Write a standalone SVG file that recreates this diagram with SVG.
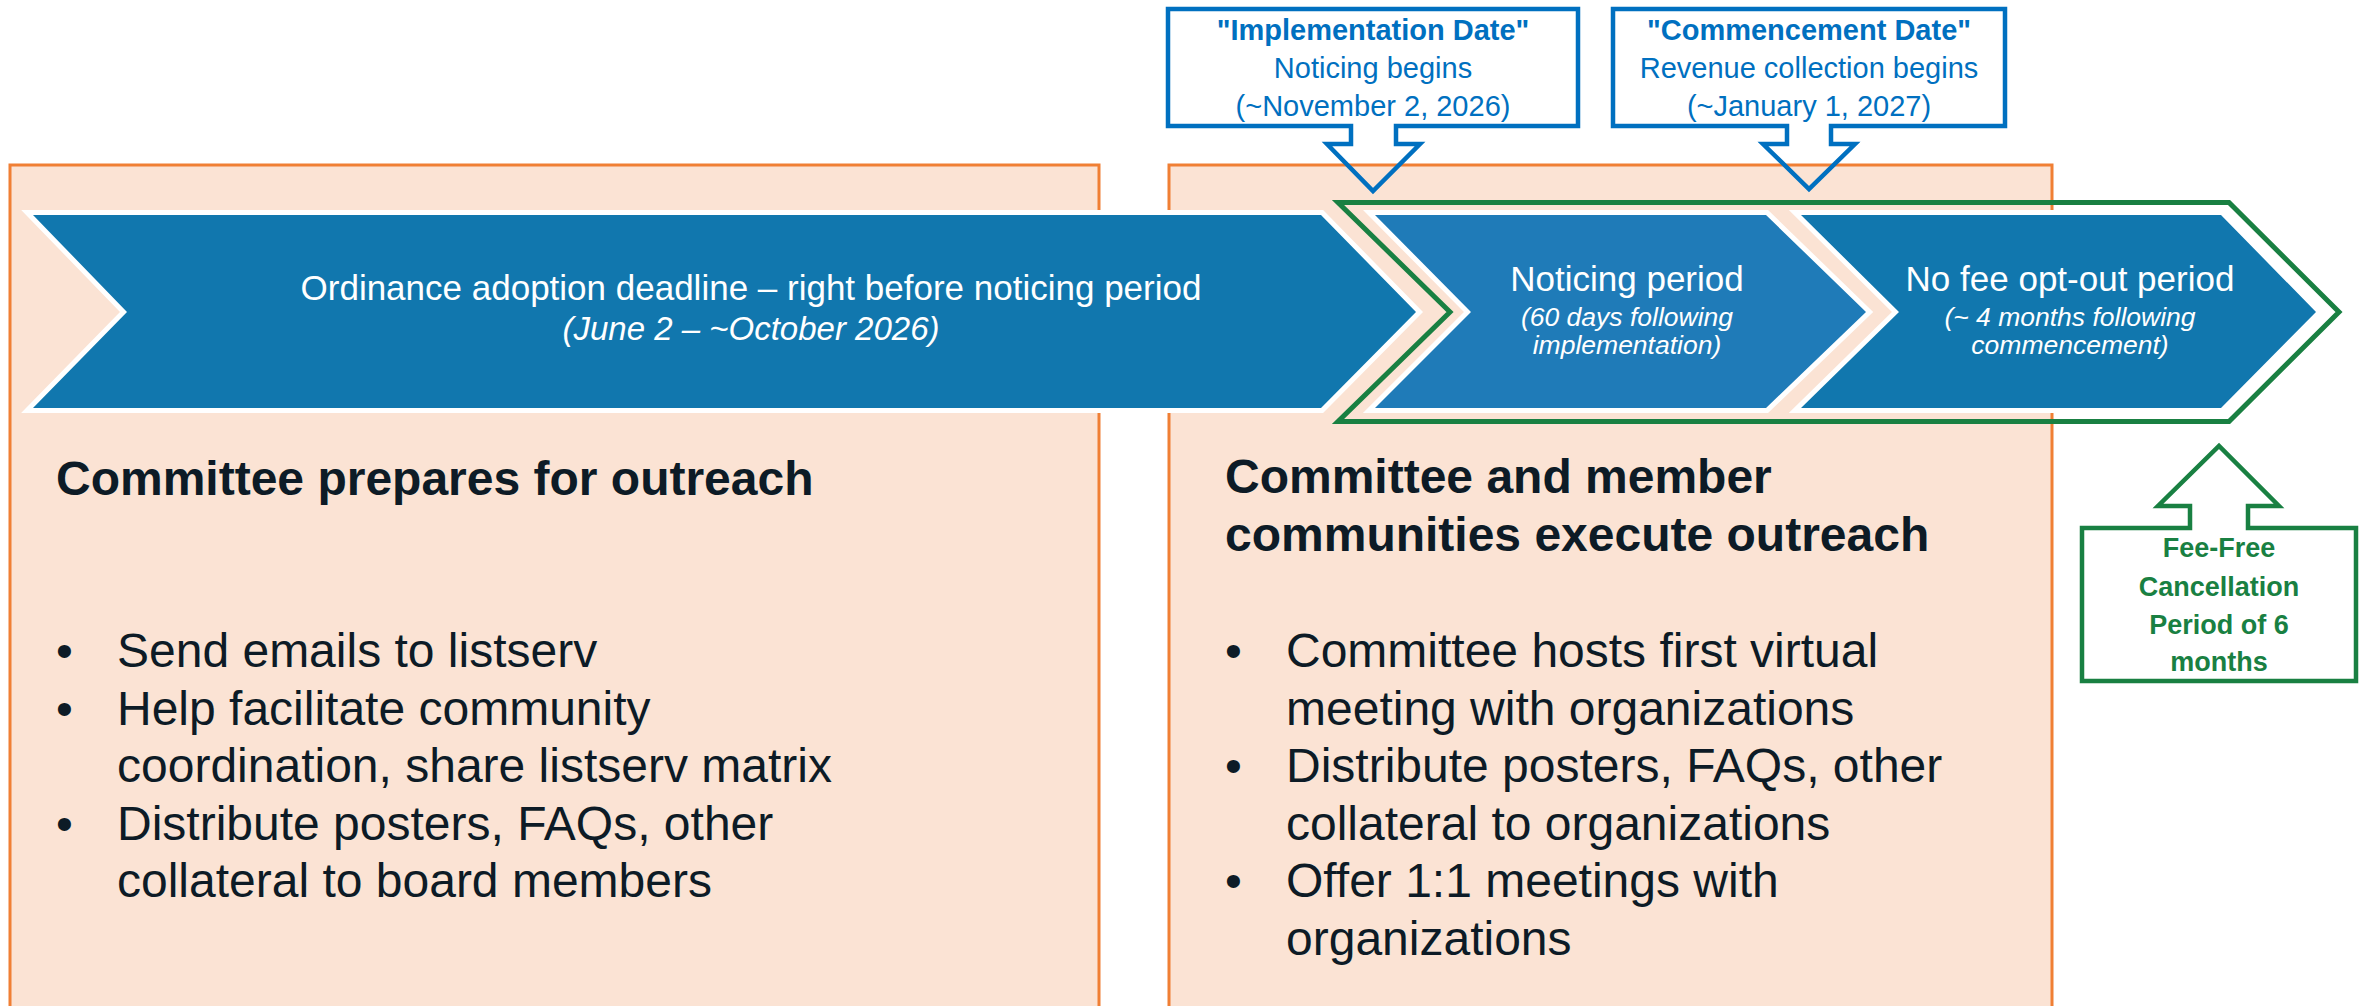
<svg xmlns="http://www.w3.org/2000/svg" width="2369" height="1006" viewBox="0 0 2369 1006">
  <style>
    .phase { fill: #FBE3D4; stroke: #F07F34; stroke-width: 3; }
    .chev { stroke: #FFFFFF; stroke-width: 10; stroke-linejoin: miter; paint-order: stroke; }
    .dark { fill: #1177AE; }
    .light { fill: #1F7BB8; }
    .window { fill: none; stroke: #198042; stroke-width: 5; stroke-linejoin: miter; }
    .callout-blue { fill: none; stroke: #0070C0; stroke-width: 4.5; stroke-linejoin: miter; }
    .callout-green { fill: none; stroke: #198042; stroke-width: 4.5; stroke-linejoin: miter; }
    .ct { font-family: "Liberation Sans", Arial, sans-serif; fill: #0070C0; font-size: 29px; text-anchor: middle; }
    .gt { font-family: "Liberation Sans", Arial, sans-serif; fill: #198042; font-size: 27px; font-weight: bold; text-anchor: middle; }
    .wt { font-family: "Liberation Sans", Arial, sans-serif; fill: #FFFFFF; text-anchor: middle; }
    .title { font-family: "Liberation Sans", Arial, sans-serif; fill: #0D1B26; font-size: 48px; font-weight: bold; }
    .body { font-family: "Liberation Sans", Arial, sans-serif; fill: #0D1B26; font-size: 48px; }
  </style>
  <rect width="2369" height="1006" fill="#FFFFFF"/>

  <g id="phase-prepare">
    <rect class="phase" x="10" y="165" width="1089" height="860"/>
    <text class="title" x="56" y="495">Committee prepares for outreach</text>
    <text class="body" x="56" y="667">•</text>
    <text class="body" x="117" y="667">Send emails to listserv</text>
    <text class="body" x="56" y="724.5">•</text>
    <text class="body" x="117" y="724.5">Help facilitate community</text>
    <text class="body" x="117" y="782">coordination, share listserv matrix</text>
    <text class="body" x="56" y="839.5">•</text>
    <text class="body" x="117" y="839.5">Distribute posters, FAQs, other</text>
    <text class="body" x="117" y="897">collateral to board members</text>
  </g>

  <g id="phase-execute">
    <rect class="phase" x="1169" y="165" width="883" height="860"/>
    <text class="title" x="1225" y="493">Committee and member</text>
    <text class="title" x="1225" y="551">communities execute outreach</text>
    <text class="body" x="1225" y="667">•</text>
    <text class="body" x="1286" y="667">Committee hosts first virtual</text>
    <text class="body" x="1286" y="724.5">meeting with organizations</text>
    <text class="body" x="1225" y="782">•</text>
    <text class="body" x="1286" y="782">Distribute posters, FAQs, other</text>
    <text class="body" x="1286" y="839.5">collateral to organizations</text>
    <text class="body" x="1225" y="897">•</text>
    <text class="body" x="1286" y="897">Offer 1:1 meetings with</text>
    <text class="body" x="1286" y="954.5">organizations</text>
  </g>

  <g id="chevron-ordinance">
    <path class="chev dark" d="M33,215 L1321,215 L1416,312 L1321,408 L33,408 L127,312 Z"/>
    <text class="wt" x="751" y="300" font-size="35">Ordinance adoption deadline – right before noticing period</text>
    <text class="wt" x="751" y="340" font-size="33" font-style="italic">(June 2 – ~October 2026)</text>
  </g>

  <g id="opt-out-window">
    <path class="window" d="M1338,202.5 L2229,202.5 L2339,312 L2229,421.5 L1338,421.5 L1450,312 Z"/>
  </g>

  <g id="chevron-noticing">
    <path class="chev light" d="M1375,215 L1766,215 L1866,312 L1766,408 L1375,408 L1471,312 Z"/>
    <text class="wt" x="1627" y="291" font-size="35">Noticing period</text>
    <text class="wt" x="1627" y="326" font-size="26.5" font-style="italic">(60 days following</text>
    <text class="wt" x="1627" y="354" font-size="26.5" font-style="italic">implementation)</text>
  </g>

  <g id="chevron-optout">
    <path class="chev dark" d="M1801,215 L2221,215 L2316,312 L2221,408 L1801,408 L1899,312 Z"/>
    <text class="wt" x="2070" y="291" font-size="35">No fee opt-out period</text>
    <text class="wt" x="2070" y="326" font-size="26.5" font-style="italic">(~ 4 months following</text>
    <text class="wt" x="2070" y="354" font-size="26.5" font-style="italic">commencement)</text>
  </g>

  <g id="callout-implementation">
    <path class="callout-blue" d="M1168,9 L1578,9 L1578,126 L1396,126 L1396,144 L1420,144 L1373,191 L1327,144 L1351,144 L1351,126 L1168,126 Z"/>
    <text class="ct" x="1373" y="40" font-weight="bold">"Implementation Date"</text>
    <text class="ct" x="1373" y="78">Noticing begins</text>
    <text class="ct" x="1373" y="116">(~November 2, 2026)</text>
  </g>

  <g id="callout-commencement">
    <path class="callout-blue" d="M1613,9 L2005,9 L2005,126 L1831,126 L1831,144 L1855,144 L1809,189 L1763,144 L1787,144 L1787,126 L1613,126 Z"/>
    <text class="ct" x="1809" y="40" font-weight="bold">"Commencement Date"</text>
    <text class="ct" x="1809" y="78">Revenue collection begins</text>
    <text class="ct" x="1809" y="116">(~January 1, 2027)</text>
  </g>

  <g id="callout-cancellation">
    <path class="callout-green" d="M2082,528 L2190,528 L2190,506 L2158,506 L2219,446 L2279,506 L2248,506 L2248,528 L2356,528 L2356,681 L2082,681 Z"/>
    <text class="gt" x="2219" y="557">Fee-Free</text>
    <text class="gt" x="2219" y="596">Cancellation</text>
    <text class="gt" x="2219" y="634">Period of 6</text>
    <text class="gt" x="2219" y="671">months</text>
  </g>

  <g id="connectors"/>
</svg>
